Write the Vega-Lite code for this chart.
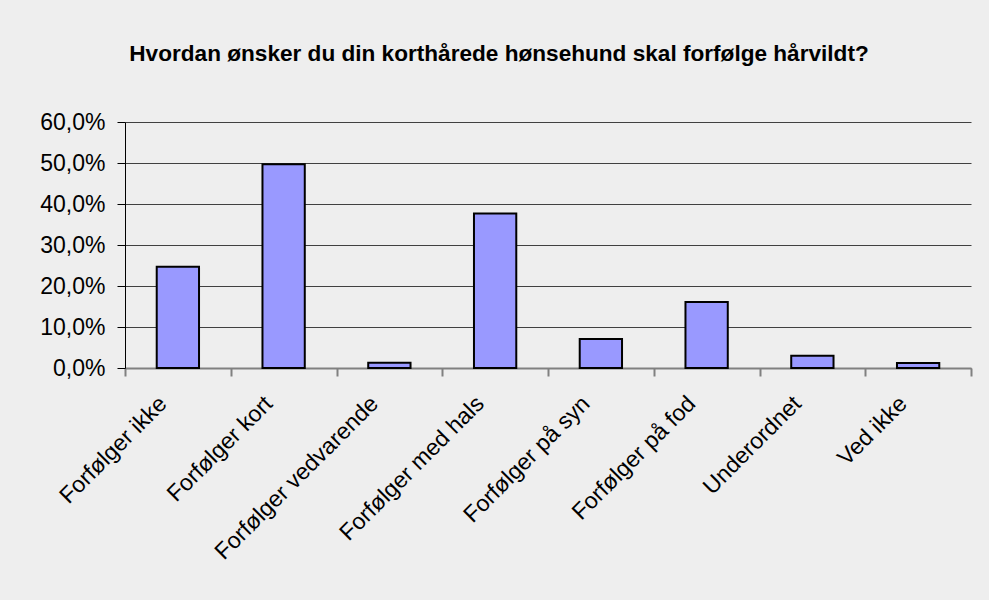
{
  "$schema": "https://vega.github.io/schema/vega-lite/v6.json",
  "width": 846,
  "height": 246,
  "autosize": "none",
  "padding": {"left": 125, "top": 122, "right": 18, "bottom": 232},
  "background": "#EEEEEE",
  "title": {
    "text": "Hvordan ønsker du din korthårede hønsehund skal forfølge hårvildt?",
    "font": "Liberation Sans",
    "fontSize": 22.6,
    "fontWeight": "bold",
    "color": "#000000",
    "anchor": "middle",
    "dx": -49,
    "offset": 45
  },
  "data": {
    "values": [
      {"kategori": "Forfølger ikke", "andel": 0.247},
      {"kategori": "Forfølger kort", "andel": 0.497},
      {"kategori": "Forfølger vedvarende", "andel": 0.013},
      {"kategori": "Forfølger med hals", "andel": 0.377},
      {"kategori": "Forfølger på syn", "andel": 0.071},
      {"kategori": "Forfølger på fod", "andel": 0.161},
      {"kategori": "Underordnet", "andel": 0.030},
      {"kategori": "Ved ikke", "andel": 0.012}
    ]
  },
  "mark": {"type": "bar", "fill": "#9999FF", "stroke": "#000000", "strokeWidth": 2, "width": {"band": 0.4}},
  "encoding": {
    "x": {
      "field": "kategori",
      "type": "nominal",
      "sort": null,
      "scale": {"paddingInner": 0, "paddingOuter": 0},
      "axis": {
        "title": null,
        "labelAngle": -45,
        "labelFont": "Liberation Sans",
        "labelFontSize": 23,
        "labelColor": "#000000",
        "labelLimit": 0,
        "labelPadding": 16,
        "labelOffset": -23,
        "domainColor": "#808080",
        "domainWidth": 2,
        "tickColor": "#808080",
        "tickWidth": 2,
        "tickSize": 8,
        "tickBand": "extent",
        "grid": false
      }
    },
    "y": {
      "field": "andel",
      "type": "quantitative",
      "scale": {"domain": [0, 0.6], "nice": false},
      "axis": {
        "title": null,
        "values": [0, 0.1, 0.2, 0.3, 0.4, 0.5, 0.6],
        "labelExpr": "replace(format(datum.value, '.1%'), '.', ',')",
        "labelFont": "Liberation Sans",
        "labelFontSize": 23,
        "labelColor": "#000000",
        "labelPadding": 12,
        "domainColor": "#000000",
        "domainWidth": 1,
        "tickColor": "#000000",
        "tickSize": 8,
        "grid": true,
        "gridColor": "#404040",
        "gridWidth": 1
      }
    }
  },
  "config": {"view": {"stroke": null}}
}
